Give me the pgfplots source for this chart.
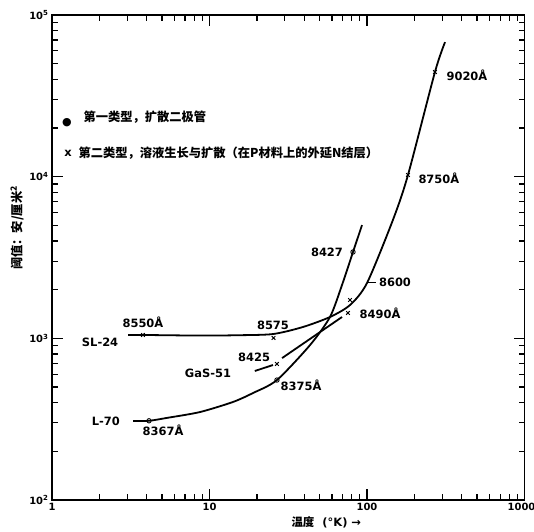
\documentclass[border=0pt]{standalone}
\usepackage{pgfplots}
\pgfplotsset{compat=1.18}
\usepackage{fontspec}
\setmainfont{DejaVu Sans}
\newfontfamily\cjk{Noto Sans CJK SC}
\newcommand\lab{\fontsize{11.5}{12}\selectfont\bfseries}
\newcommand\cjklab{\fontsize{12.3}{13}\selectfont\cjk\bfseries}
\begin{document}
\begin{tikzpicture}
\begin{axis}[
  xmode=log, ymode=log,
  xmin=1, xmax=1000, ymin=100, ymax=100000,
  width=472.5bp, height=485bp, scale only axis,
  clip=false,
  axis line style={line width=1.8pt},
  major tick length=11bp, minor tick length=6bp,
  every major tick/.append style={line width=1.4pt, black},
  every minor tick/.append style={line width=1.2pt, black},
  xtick={1,10,100,1000}, xticklabels={1,10,100,\hspace*{-6bp}1000},
  minor xtick={2,3,4,5,6,7,8,9,20,30,40,50,60,70,80,90,200,300,400,500,600,700,800,900},
  ytick={100,1000,10000,100000},
  yticklabels={10\textsuperscript{2},10\textsuperscript{3},10\textsuperscript{4},10\textsuperscript{5}},
  minor ytick={200,300,400,500,600,700,800,900,2000,3000,4000,5000,6000,7000,8000,9000,20000,30000,40000,50000,60000,70000,80000,90000},
  ticklabel style={font=\fontsize{10}{11}\selectfont\bfseries},
]
% SL-24
\addplot[line width=1.8pt, smooth, tension=0.45] coordinates {
(3.04,1049) (3.78,1049) (8.7,1040) (15,1045) (25.3,1063) (39.2,1175) (58.2,1355) (78,1607) (100,2198) (146,5390) (182,10230) (270,44350) (313,67950)};
% L-70
\addplot[line width=1.8pt, smooth, tension=0.45] coordinates {
(3.27,308) (4.13,309) (5.37,322) (8.7,350) (14.1,404) (18.9,459) (26.8,552) (43.5,909) (58.2,1355) (69.4,2137) (81.5,3420) (93,5020)};
% GaS-51
\addplot[line width=1.8pt] coordinates {(19.4,628) (25.3,684)};
\addplot[line width=1.8pt] coordinates {(28.9,755) (69.4,1355)};
% markers
\addplot[only marks, mark=o, mark size=2.2pt, line width=0.9pt, mark options={fill=white}] coordinates {(4.13,309) (26.8,552) (81.5,3420)};
\addplot[only marks, mark=x, mark size=2.6pt, line width=1pt] coordinates {(3.78,1049) (25.5,1005) (26.8,694) (75.7,1435) (78,1726) (182,10240) (270,44360)};
% labels
\node[font=\lab] at (axis cs:3.78,1262) {8550Å};
\node[font=\lab] at (axis cs:2.02,949) {SL-24};
\node[font=\lab] at (axis cs:25.3,1209) {8575};
\node[font=\lab] at (axis cs:19.2,766) {8425};
\node[font=\lab] at (axis cs:9.78,610) {GaS-51};
\node[font=\lab] at (axis cs:38.1,514) {8375Å};
\node[font=\lab] at (axis cs:2.2,308) {L-70};
\node[font=\lab] at (axis cs:5.07,271) {8367Å};
\node[font=\lab] at (axis cs:55.7,3420) {8427};
\node[font=\lab] at (axis cs:150.6,2230) {8600};
\draw[line width=1pt] (axis cs:101,2230) -- (axis cs:114,2230);
\node[font=\lab] at (axis cs:121,1435) {8490Å};
\node[font=\lab] at (axis cs:286,9820) {8750Å};
\node[font=\lab] at (axis cs:431,42560) {9020Å};
% legend
\node[font=\fontsize{11}{12}\selectfont] at (rel axis cs:0.0317,0.779) {●};
\node[font=\cjklab, anchor=west] at (rel axis cs:0.0593,0.790) {第一类型，扩散二极管};
\node[font=\lab] at (rel axis cs:0.0339,0.7155) {x};
\node[font=\cjklab, anchor=west] at (rel axis cs:0.0487,0.7155) {第二类型，溶液生长与扩散（在P材料上的外延N结层）};
% axis labels
\node[anchor=west, font=\lab] at (rel axis cs:0.4995,-0.0454) {{\cjk 温度}\ \ (°K) →};
\node[rotate=90, font=\cjklab] at (rel axis cs:-0.074,0.561) {阈值：安/厘米\textsuperscript{2}};
\end{axis}
\pgfresetboundingbox
\path[use as bounding box] (-52bp,-32bp) rectangle (482bp,500bp);
\end{tikzpicture}
\end{document}
